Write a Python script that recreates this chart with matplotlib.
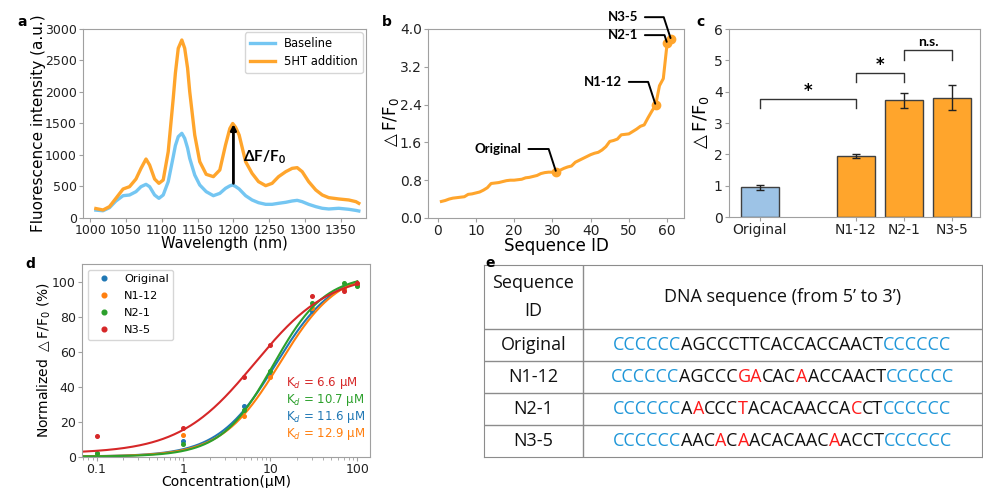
import matplotlib
matplotlib.use('Agg')
import matplotlib.pyplot as plt
from matplotlib.offsetbox import TextArea, HPacker, AnnotationBbox
from matplotlib.ticker import FixedLocator, MultipleLocator
from itertools import groupby
import numpy as np

plt.rcParams['font.family'] = ['DejaVu Sans']
plt.rcParams['mathtext.fontset'] = 'dejavusans'

# ---------------- data ----------------
# a: spectra
wavelength = [1008, 1018, 1027, 1036, 1046, 1055, 1064, 1071, 1078, 1083, 1090, 1096, 1102, 1109,
              1116, 1119, 1123, 1128, 1132, 1136, 1139, 1146, 1153, 1162, 1172, 1181, 1189, 1195,
              1199, 1203, 1208, 1217, 1226, 1235, 1245, 1254, 1263, 1273, 1282, 1289, 1296, 1305,
              1315, 1324, 1333, 1347, 1361, 1371, 1375]
baseline = [125, 115, 164, 270, 354, 365, 418, 497, 534, 497, 365, 312, 365, 577,
            973, 1150, 1291, 1344, 1264, 1110, 947, 682, 524, 418, 354, 391, 471, 510,
            524, 500, 460, 354, 286, 243, 217, 217, 233, 249, 270, 280, 259, 217,
            180, 154, 143, 154, 138, 120, 111]
serotonin = [150, 127, 180, 312, 460, 497, 619, 788, 936, 841, 619, 550, 603, 1052,
             1899, 2300, 2693, 2825, 2693, 2380, 2005, 1317, 894, 693, 656, 762, 1160, 1420,
             1500, 1440, 1317, 894, 709, 577, 513, 550, 656, 735, 788, 799, 735, 577,
             444, 365, 323, 302, 286, 259, 233]

# b: sorted response of the library
seq_response = [0.35, 0.37, 0.40, 0.42, 0.43, 0.44, 0.45, 0.50, 0.51, 0.53,
                0.55, 0.59, 0.64, 0.73, 0.74, 0.75, 0.77, 0.79, 0.80, 0.80,
                0.81, 0.82, 0.85, 0.86, 0.88, 0.90, 0.94, 0.96, 0.97, 0.97,
                0.97, 1.01, 1.05, 1.08, 1.10, 1.18, 1.22, 1.26, 1.30, 1.34,
                1.37, 1.39, 1.44, 1.51, 1.62, 1.64, 1.67, 1.76, 1.77, 1.78,
                1.83, 1.88, 1.94, 1.97, 2.12, 2.26, 2.39, 2.80, 2.95, 3.70, 3.78]
marked_ids = [31, 57, 60, 61]
marked_names = ['Original', 'N1-12', 'N2-1', 'N3-5']
marked_text_xy = [(15.8, 1.46), (43.2, 2.88), (48.4, 3.87), (48.4, 4.25)]

# c: bars
bar_names = ['Original', 'N1-12', 'N2-1', 'N3-5']
bar_pos = [0, 2, 3, 4]
bar_mean = [0.95, 1.95, 3.72, 3.80]
bar_err = [0.08, 0.06, 0.24, 0.40]
sig_pairs = [(0, 1, 3.77, '*'), (1, 2, 4.60, '*'), (2, 3, 5.32, 'n.s.')]

# d: titration
conc = [0.1, 1, 5, 10, 30, 70, 100]
titr_names = ['Original', 'N1-12', 'N2-1', 'N3-5']
titr_vals = [[1.5, 9.0, 29, 47, 83, 97, 98.3],
             [2.0, 12.5, 23.1, 45.6, 85, 96, 98.7],
             [2.5, 7.5, 27, 49, 87.5, 99, 97.3],
             [11.9, 16.7, 45.6, 64, 92, 94.8, 99]]
kd = [11.6, 12.9, 10.7, 6.6]
hill_n = [1.3, 1.3, 1.45, 1.0]
fit_top = [106, 107, 104, 105]
fit_bottom = [0.3, 0.3, 0.3, 2.0]
kd_order = [3, 2, 0, 1]

# e: table
table_ids = ['Original', 'N1-12', 'N2-1', 'N3-5']
table_seqs = ['CCCCCCAGCCCTTCACCACCAACTCCCCCC',
              'CCCCCCAGCCCGACACAACCAACTCCCCCC',
              'CCCCCCAACCCTACACAACCACCTCCCCCC',
              'CCCCCCAACACAACACAACAACCTCCCCCC']
table_marks = ['bbbbbbkkkkkkkkkkkkkkkkkkbbbbbb',
               'bbbbbbkkkkkrrkkkrkkkkkkkbbbbbb',
               'bbbbbbkrkkkrkkkkkkkkkrkkbbbbbb',
               'bbbbbbkkkrkrkkkkkkkrkkkkbbbbbb']

# ---------------- style ----------------
c_base = '#74c6f2'
c_5ht = '#ffa52c'
c_blue_bar = '#9dc3e6'
tab = ['#1f77b4', '#ff7f0e', '#2ca02c', '#d62728']
spine_c = '#a0a0a0'
seq_colors = {'b': '#1e96d8', 'k': '#111111', 'r': '#ff1a1a'}


def style_axes(ax, size):
    for s in ax.spines.values():
        s.set_color(spine_c)
    ax.tick_params(colors=spine_c, labelcolor='#222222', labelsize=size, which='both',
                   length=3, pad=1.5)
    ax.tick_params(which='minor', length=2)


fig = plt.figure(figsize=(9.83, 4.88), dpi=100)

# ---------------- a ----------------
ax = fig.add_axes([0.0844, 0.5533, 0.2879, 0.3873])
ax.plot(wavelength, baseline, color=c_base, lw=2.4, label='Baseline')
ax.plot(wavelength, serotonin, color=c_5ht, lw=2.4, label='5HT addition')
ax.set_xlim(990, 1385)
ax.set_ylim(0, 3000)
ax.xaxis.set_major_locator(MultipleLocator(50))
ax.yaxis.set_major_locator(MultipleLocator(500))
style_axes(ax, 9)
ax.set_xlabel('Wavelength (nm)', fontsize=10.5, labelpad=-1)
ax.set_ylabel('Fluorescence intensity (a.u.)', fontsize=11, labelpad=-1)
ax.annotate('', xy=(1200, 1490), xytext=(1200, 550),
            arrowprops=dict(arrowstyle='-|>', color='k', lw=2, mutation_scale=8, shrinkA=0, shrinkB=0))
ax.text(1213, 960, 'ΔF/F$_\\mathregular{0}$', family='Lato', fontweight='bold', fontsize=11,
        va='center', ha='left')
ax.legend(loc='upper right', fontsize=8.3, handlelength=2.2, borderaxespad=0.3, labelspacing=0.45)
fig.text(0.018, 0.955, 'a', fontweight='bold', fontsize=10, va='center')

# ---------------- b ----------------
ax = fig.add_axes([0.4354, 0.5533, 0.2604, 0.3873])
ids = np.arange(1, len(seq_response) + 1)
ax.plot(ids, seq_response, color=c_5ht, lw=2.2)
mark_vals = [seq_response[i - 1] for i in marked_ids]
ax.plot(marked_ids, mark_vals, 'o', color=c_5ht, ms=6)
for name, mid, mv, txy in zip(marked_names, marked_ids, mark_vals, marked_text_xy):
    ax.annotate(name, xy=(mid, mv), xytext=txy, textcoords='data', ha='center', va='center',
                family='Lato', fontweight='bold', fontsize=9.5, annotation_clip=False,
                arrowprops=dict(arrowstyle='-', color='k', lw=1.4, shrinkA=3, shrinkB=1,
                                connectionstyle='angle,angleA=0,angleB=108,rad=0'))
ax.set_xlim(-2.5, 64.4)
ax.set_ylim(0, 4.0)
ax.yaxis.set_major_locator(FixedLocator([0, 0.8, 1.6, 2.4, 3.2, 4.0]))
ax.set_yticklabels(['0.0', '0.8', '1.6', '2.4', '3.2', '4.0'])
ax.xaxis.set_major_locator(MultipleLocator(10))
style_axes(ax, 10)
ax.set_xlabel('Sequence ID', fontsize=12, labelpad=-1)
ax.set_ylabel('$\\triangle$F/F$_0$', fontsize=12, labelpad=-1)
fig.text(0.388, 0.955, 'b', fontweight='bold', fontsize=10, va='center')

# ---------------- c ----------------
ax = fig.add_axes([0.7416, 0.5553, 0.2553, 0.3852])
ax.bar(bar_pos, bar_mean, width=0.8, color=[c_blue_bar] + [c_5ht] * 3, edgecolor='#404040', lw=1,
       yerr=bar_err, capsize=3, error_kw=dict(elinewidth=1, capthick=1, ecolor='#222222'))
for i, j, top, lab in sig_pairs:
    xa, xb = bar_pos[i], bar_pos[j]
    ax.plot([xa, xa, xb, xb], [top - 0.3, top, top, top - 0.3], color='#333333', lw=1)
    if lab == '*':
        ax.text((xa + xb) / 2, top - 0.02, lab, ha='center', va='bottom',
                fontweight='bold', fontsize=12)
    else:
        ax.text((xa + xb) / 2, top + 0.08, lab, ha='center', va='bottom',
                family='Lato', fontweight='bold', fontsize=10)
ax.set_xticks(bar_pos)
ax.set_xticklabels(bar_names)
ax.set_ylim(0, 6)
ax.set_xlim(-0.64, 4.58)
style_axes(ax, 10)
ax.set_ylabel('$\\triangle$F/F$_0$', fontsize=13, labelpad=2)
fig.text(0.708, 0.955, 'c', fontweight='bold', fontsize=10, va='center')

# ---------------- d ----------------
ax = fig.add_axes([0.0834, 0.0635, 0.2930, 0.3955])
xs = np.logspace(np.log10(0.07), 2, 200)
for k in range(4):
    ax.plot(conc, titr_vals[k], 'o', color=tab[k], ms=2.6, label=titr_names[k])
    fit = fit_bottom[k] + (fit_top[k] - fit_bottom[k]) * xs ** hill_n[k] / (kd[k] ** hill_n[k] + xs ** hill_n[k])
    ax.plot(xs, fit, color=tab[k], lw=1.5)
ax.set_xscale('log')
ax.set_xlim(0.068, 140)
ax.set_ylim(0, 110)
ax.set_xticks([0.1, 1, 10, 100])
ax.set_xticklabels(['0.1', '1', '10', '100'])
ax.yaxis.set_major_locator(MultipleLocator(20))
style_axes(ax, 9)
ax.set_xlabel('Concentration(μM)', fontsize=10, labelpad=-1)
ax.set_ylabel('Normalized $\\triangle$F/F$_0$ (%)', fontsize=10, labelpad=-1)
ax.legend(loc='upper left', fontsize=8.2, markerscale=1.3, labelspacing=0.62)
for row, k in enumerate(kd_order):
    ax.text(0.708, 0.385 - row * 0.089, 'K$_d$ = %.1f μM' % kd[k], color=tab[k], fontsize=8.5,
            transform=ax.transAxes, va='center', ha='left')
fig.text(0.026, 0.46, 'd', fontweight='bold', fontsize=10, va='center')

# ---------------- e ----------------
ax = fig.add_axes([0.4924, 0.0635, 0.5066, 0.3934])
ax.set_xlim(0, 1)
ax.set_ylim(0, 1)
ax.set_xticks([])
ax.set_yticks([])
for s in ax.spines.values():
    s.set_color('#8c8c8c')
n_rows = len(table_ids)
row_h = 1 / (n_rows + 2)
for r in range(1, n_rows + 1):
    ax.axhline(r * row_h, color='#8c8c8c', lw=1)
col_split = 0.198
ax.axvline(col_split, color='#8c8c8c', lw=1)
tfont = dict(family=['Open Sans', 'DejaVu Sans'], fontsize=13, color='#111111')
head_y = 1 - row_h
ax.text(col_split / 2, head_y, 'Sequence\nID', ha='center', va='center', linespacing=1.75, **tfont)
ax.text((col_split + 1) / 2, head_y, 'DNA sequence (from 5’ to 3’)', ha='center', va='center', **tfont)
for r, (sid, seq, mark) in enumerate(zip(table_ids, table_seqs, table_marks)):
    yc = (n_rows - r - 0.5) * row_h
    ax.text(col_split / 2, yc, sid, ha='center', va='center', **tfont)
    boxes = []
    pos = 0
    for key, grp in groupby(mark):
        n = len(list(grp))
        boxes.append(TextArea(seq[pos:pos + n],
                              textprops=dict(family=['Open Sans', 'DejaVu Sans'], fontsize=13,
                                             color=seq_colors[key])))
        pos += n
    pack = HPacker(children=boxes, align='baseline', pad=0, sep=0)
    ab = AnnotationBbox(pack, ((col_split + 1) / 2, yc), xycoords=ax.transAxes, frameon=False,
                        box_alignment=(0.5, 0.5), pad=0)
    ax.add_artist(ab)
fig.text(0.494, 0.462, 'e', fontweight='bold', fontsize=10, va='center')

plt.savefig('out.png', dpi=100)
